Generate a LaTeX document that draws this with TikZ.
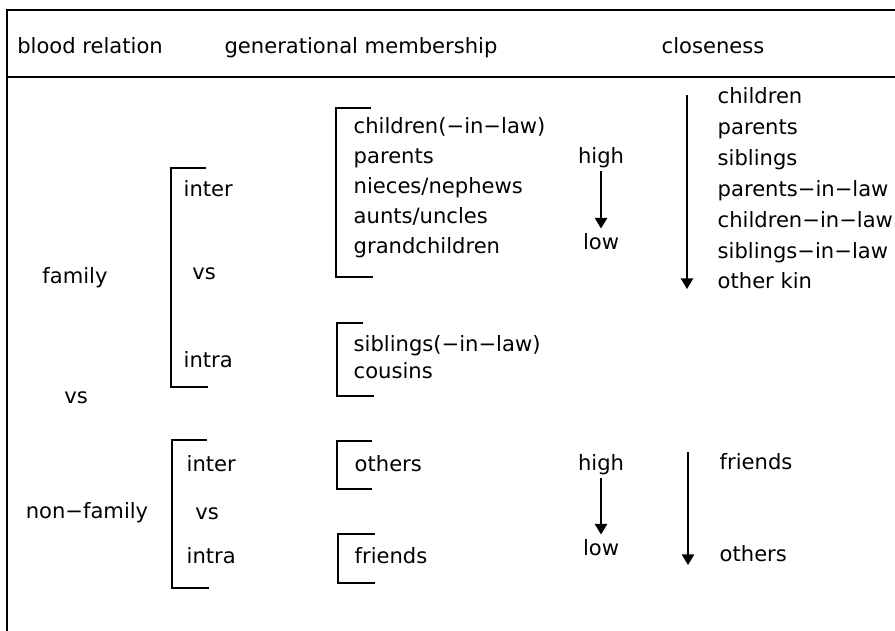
\documentclass[tikz,border=0pt]{standalone}
\usepackage{fontspec}
\setmainfont{DejaVu Sans}
\usetikzlibrary{arrows.meta,positioning}

\begin{document}
\begin{tikzpicture}[>={Triangle[length=6pt,width=7pt]}, line width=0.8pt,
        font=\fontsize{12}{14}\selectfont,
        every node/.style={text height=1.55ex, text depth=0.1ex},
        item/.style={anchor=west, inner sep=0pt},
        rule/.style={line width=1.1pt}]
        \useasboundingbox (0,0) rectangle (17.9,12.62);

        % frame and heading
        \draw[rule] (17.9,12.42) -- (0.14,12.42) -- (0.14,0);
        \draw[rule] (0.14,11.08) -- (17.9,11.08);
        \node (hblood) at (1.8,11.68) {blood relation};
        \node (hgen) at (7.22,11.68) {generational membership};
        \node (hclose) at (14.26,11.68) {closeness};

        % blood relation
        \node (family) at (1.5,7.08) {family};
        \node (bvs) at (1.52,4.68) {vs};
        \node (nonfamily) at (1.74,2.38) {non−family};

        % family: inter vs intra
        \draw (4.12,9.26) -- (3.42,9.26) -- (3.42,4.88) -- (4.16,4.88);
        \node[item] (finter) at (3.66,8.82) {inter};
        \node (fvs) at (4.08,7.16) {vs};
        \node[item] (fintra) at (3.66,5.40) {intra};

        % non-family: inter vs intra
        \draw (4.14,3.82) -- (3.44,3.82) -- (3.44,0.86) -- (4.18,0.86);
        \node[item] (ninter) at (3.72,3.32) {inter};
        \node (nvs) at (4.14,2.36) {vs};
        \node[item] (nintra) at (3.72,1.48) {intra};

        % generational membership, family
        \draw (7.42,10.46) -- (6.72,10.46) -- (6.72,7.08) -- (7.46,7.08);
        \foreach \t [count=\i] in {children(−in−law), parents,
                nieces/nephews, aunts/uncles, grandchildren}
            \node[item] (gen\i) at (7.06,10.68-0.6*\i) {\t};
        \draw (7.26,6.16) -- (6.74,6.16) -- (6.74,4.70) -- (7.48,4.70);
        \node[item] (sib1) at (7.06,5.72) {siblings(−in−law)};
        \node[item] (sib2) at (7.06,5.18) {cousins};

        % generational membership, non-family
        \draw (7.44,3.80) -- (6.74,3.80) -- (6.74,2.84) -- (7.44,2.84);
        \node[item] (nothers) at (7.08,3.32) {others};
        \draw (7.50,1.94) -- (6.76,1.94) -- (6.76,0.96) -- (7.50,0.96);
        \node[item] (nfriends) at (7.08,1.48) {friends};

        % closeness, family
        \node (high1) at (12.02,9.48) {high};
        \node (low1) at (12.02,7.76) {low};
        \draw[->] (high1) -- (low1);
        \coordinate (ftop) at (13.74,10.72);
        \coordinate (fbot) at (13.74,6.84);
        \draw[->] (ftop) -- (fbot);
        \foreach \t [count=\i] in {children, parents, siblings,
                parents−in−law, children−in−law,
                siblings−in−law, other kin}
            \node[item] (close\i) at (14.34,11.3-0.617*\i) {\t};

        % closeness, non-family
        \node (high2) at (12.02,3.34) {high};
        \node (low2) at (12.02,1.64) {low};
        \draw[->] (high2) -- (low2);
        \coordinate (ntop) at (13.76,3.58);
        \coordinate (nbot) at (13.76,1.32);
        \draw[->] (ntop) -- (nbot);
        \node[item] (cfriends) at (14.38,3.36) {friends};
        \node[item] (cothers) at (14.38,1.52) {others};

\end{tikzpicture}
\end{document}
